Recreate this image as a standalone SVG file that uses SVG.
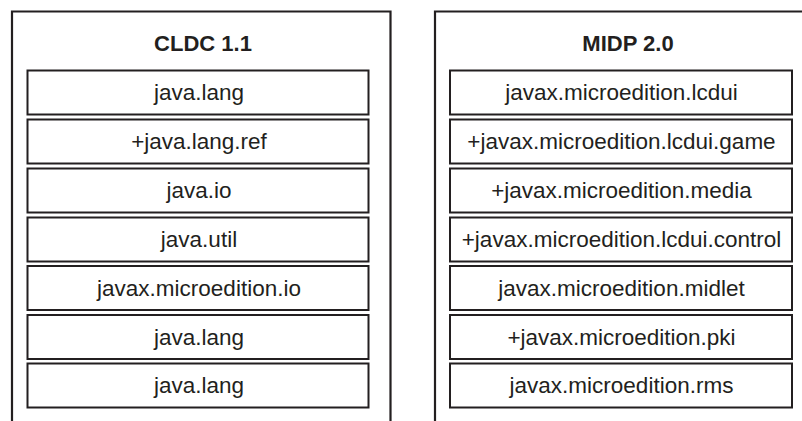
<svg xmlns="http://www.w3.org/2000/svg" width="802" height="421" viewBox="0 0 802 421">
<style>
.outer{fill:#fff;stroke:#231f20;stroke-width:2.2}
.box{fill:#fff;stroke:#231f20;stroke-width:2}
.t{font-family:"Liberation Sans",Arial,sans-serif;font-size:22.5px;fill:#231f20;text-anchor:middle}
.h{font-family:"Liberation Sans",Arial,sans-serif;font-size:22px;font-weight:bold;fill:#231f20;text-anchor:middle}
</style>
<rect width="802" height="421" fill="#fff"/>
<g id="cldc">
<path class="outer" d="M12,430 V11.5 H390.5 V430"/>
<text class="h" x="203" y="50.5">CLDC 1.1</text>
</g>
<g id="midp">
<path class="outer" d="M435,430 V11.5 H810"/>
<text class="h" x="628" y="50.5">MIDP 2.0</text>
</g>
<g id="c1"><rect class="box" x="27.5" y="70.5" width="341" height="44"/><text class="t" x="199" y="100">java.lang</text></g>
<g id="c2"><rect class="box" x="27.5" y="119.5" width="341" height="44"/><text class="t" x="199" y="149">+java.lang.ref</text></g>
<g id="c3"><rect class="box" x="27.5" y="168.5" width="341" height="44"/><text class="t" x="199" y="198">java.io</text></g>
<g id="c4"><rect class="box" x="27.5" y="217.5" width="341" height="44"/><text class="t" x="199" y="247">java.util</text></g>
<g id="c5"><rect class="box" x="27.5" y="266" width="341" height="44"/><text class="t" x="199" y="295.5">javax.microedition.io</text></g>
<g id="c6"><rect class="box" x="27.5" y="315" width="341" height="44"/><text class="t" x="199" y="344.5">java.lang</text></g>
<g id="c7"><rect class="box" x="27.5" y="363.5" width="341" height="44"/><text class="t" x="199" y="393">java.lang</text></g>
<g id="m1"><rect class="box" x="450" y="70.5" width="342" height="44"/><text class="t" x="621.5" y="100">javax.microedition.lcdui</text></g>
<g id="m2"><rect class="box" x="450" y="119.5" width="342" height="44"/><text class="t" x="621.5" y="149">+javax.microedition.lcdui.game</text></g>
<g id="m3"><rect class="box" x="450" y="168.5" width="342" height="44"/><text class="t" x="621.5" y="198">+javax.microedition.media</text></g>
<g id="m4"><rect class="box" x="450" y="217.5" width="342" height="44"/><text class="t" x="621.5" y="247">+javax.microedition.lcdui.control</text></g>
<g id="m5"><rect class="box" x="450" y="266" width="342" height="44"/><text class="t" x="621.5" y="295.5">javax.microedition.midlet</text></g>
<g id="m6"><rect class="box" x="450" y="315" width="342" height="44"/><text class="t" x="621.5" y="344.5">+javax.microedition.pki</text></g>
<g id="m7"><rect class="box" x="450" y="363.5" width="342" height="44"/><text class="t" x="621.5" y="393">javax.microedition.rms</text></g>
<g id="connectors"/>
</svg>
